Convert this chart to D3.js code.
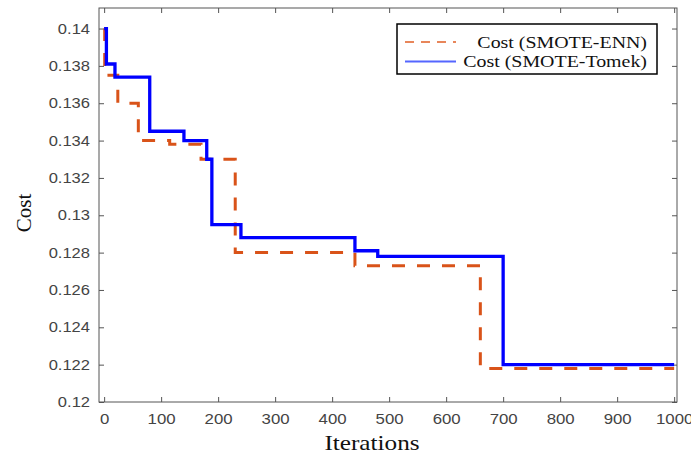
<!DOCTYPE html>
<html>
<head>
<meta charset="utf-8">
<script src="https://cdn.jsdelivr.net/npm/d3@7"></script>
<style>
  body { margin: 0; background: #fff; }
  svg { display: block; }
</style>
</head>
<body>
<svg id="chart" width="691" height="456"></svg>
<script>
const xTicks = [0, 100, 200, 300, 400, 500, 600, 700, 800, 900, 1000];
const yTicks = [0.12, 0.122, 0.124, 0.126, 0.128, 0.13, 0.132, 0.134, 0.136, 0.138, 0.14];

// step points: [iteration, cost]
const ennIter = [0, 1, 24, 60, 115, 170, 230, 440, 660, 1000];
const ennCost = [0.1400, 0.1375, 0.1360, 0.1340, 0.1338, 0.1330, 0.1280, 0.1273, 0.1218, 0.1218];

const tomekIter = [0, 4, 19, 80, 140, 180, 189, 240, 440, 480, 700, 1000];
const tomekCost = [0.1400, 0.1381, 0.1374, 0.1345, 0.1340, 0.1330, 0.1295, 0.1288, 0.1281, 0.1278, 0.1220, 0.1220];

const seriesNames = ["Cost (SMOTE-ENN)", "Cost (SMOTE-Tomek)"];

const svg = d3.select("#chart");
const plotLeft = 99, plotRight = 677, plotTop = 8, plotBottom = 402;

const x = d3.scaleLinear().domain([-9, 1005]).range([plotLeft, plotRight]);
const y = d3.scaleLinear().domain([0.12, 0.1411]).range([plotBottom, plotTop]);

const axisColor = "#555";
const fmt = d => String(+d.toFixed(3));

// the source picture is stretched sideways, so widen text a bit
function widen(sel, k) {
  sel.each(function () {
    const w = this.getComputedTextLength();
    if (w > 0) {
      d3.select(this)
        .attr("textLength", w * k)
        .attr("lengthAdjust", "spacingAndGlyphs");
    }
  });
}

// frame
svg.append("rect")
  .attr("x", plotLeft).attr("y", plotTop)
  .attr("width", plotRight - plotLeft).attr("height", plotBottom - plotTop)
  .attr("fill", "none").attr("stroke", axisColor).attr("stroke-width", 1);

// axes with inward ticks
function styleAxis(g) {
  g.select(".domain").remove();
  g.selectAll(".tick line").attr("stroke", axisColor);
  g.selectAll(".tick text")
    .attr("fill", "#444")
    .attr("font-family", "Liberation Sans, Arial, sans-serif")
    .attr("font-size", 14);
}

svg.append("g")
  .attr("transform", `translate(0,${plotBottom})`)
  .call(d3.axisBottom(x).tickValues(xTicks).tickSize(-5).tickPadding(12).tickFormat(d => d))
  .call(styleAxis)
  .call(g => widen(g.selectAll(".tick text"), 1.2));

svg.append("g")
  .attr("transform", `translate(0,${plotTop})`)
  .call(d3.axisTop(x).tickValues(xTicks).tickSize(-5).tickFormat(""))
  .call(styleAxis);

svg.append("g")
  .attr("transform", `translate(${plotLeft},0)`)
  .call(d3.axisLeft(y).tickValues(yTicks).tickSize(-5).tickPadding(9).tickFormat(fmt))
  .call(styleAxis)
  .call(g => widen(g.selectAll(".tick text"), 1.18));

svg.append("g")
  .attr("transform", `translate(${plotRight},0)`)
  .call(d3.axisRight(y).tickValues(yTicks).tickSize(-5).tickFormat(""))
  .call(styleAxis);

// lines
const line = d3.line()
  .x(d => x(d[0]))
  .y(d => y(d[1]))
  .curve(d3.curveStepAfter);

const ennData = ennIter.map((d, i) => [d, ennCost[i]]);
const tomekData = tomekIter.map((d, i) => [d, tomekCost[i]]);

svg.append("path")
  .datum(ennData)
  .attr("d", line)
  .attr("fill", "none")
  .attr("stroke", "#D95319")
  .attr("stroke-width", 3)
  .attr("stroke-dasharray", "13,12");

svg.append("path")
  .datum(tomekData)
  .attr("d", line)
  .attr("fill", "none")
  .attr("stroke", "#0000FF")
  .attr("stroke-width", 3.3);

// axis labels
svg.append("text")
  .attr("x", 372).attr("y", 450)
  .attr("text-anchor", "middle")
  .attr("font-family", "Liberation Serif, Times New Roman, serif")
  .attr("font-size", 21)
  .attr("fill", "#111")
  .text("Iterations")
  .call(widen, 1.2);

svg.append("text")
  .attr("transform", "translate(31,213) rotate(-90)")
  .attr("text-anchor", "middle")
  .attr("font-family", "Liberation Serif, Times New Roman, serif")
  .attr("font-size", 21)
  .attr("fill", "#111")
  .text("Cost");

// legend
const legend = svg.append("g");
legend.append("rect")
  .attr("x", 397).attr("y", 24)
  .attr("width", 260).attr("height", 50)
  .attr("fill", "#fff").attr("stroke", "#000").attr("stroke-width", 1.5);

const legendStyles = [
  { color: "#E8865A", dash: "9,7" },
  { color: "#5566FF", dash: null }
];

seriesNames.forEach((name, i) => {
  const ly = 42 + i * 19.5;
  legend.append("line")
    .attr("x1", 405).attr("x2", 456)
    .attr("y1", ly).attr("y2", ly)
    .attr("stroke", legendStyles[i].color)
    .attr("stroke-width", 1.8)
    .attr("stroke-dasharray", legendStyles[i].dash);
  legend.append("text")
    .attr("x", 647).attr("y", ly + 5.5)
    .attr("text-anchor", "end")
    .attr("font-family", "Liberation Serif, Times New Roman, serif")
    .attr("font-size", 17)
    .attr("fill", "#111")
    .text(name)
    .call(widen, 1.17);
});
</script>
</body>
</html>
